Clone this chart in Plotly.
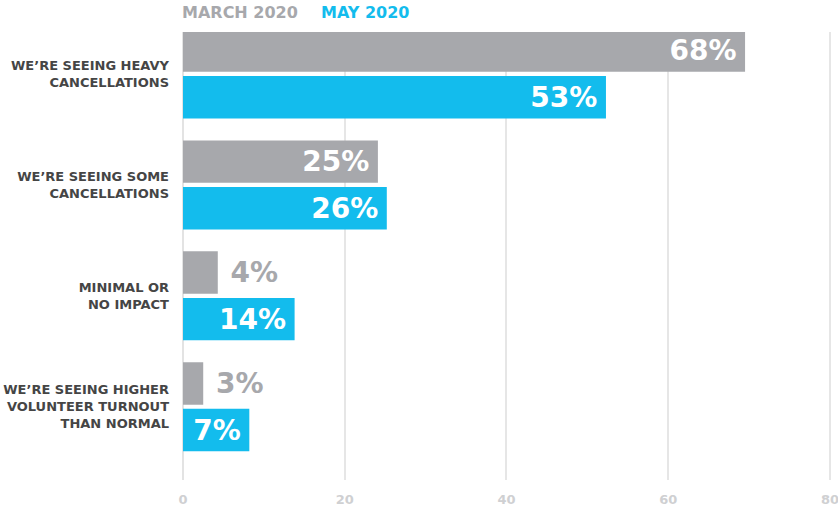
import plotly.graph_objects as go

categories = [
    "WE’RE SEEING HEAVY<br>CANCELLATIONS",
    "WE’RE SEEING SOME<br>CANCELLATIONS",
    "MINIMAL OR<br>NO IMPACT",
    "WE’RE SEEING HIGHER<br>VOLUNTEER TURNOUT<br>THAN NORMAL",
]
series_names = ["MARCH 2020", "MAY 2020"]
# bar lengths as drawn in the picture
march_values = [69.5, 24.1, 4.3, 2.5]
may_values = [52.3, 25.2, 13.8, 8.2]
# printed value labels
march_labels = ["68%", "25%", "4%", "3%"]
may_labels = ["53%", "26%", "14%", "7%"]
x_ticks = [0, 20, 40, 60, 80]

GREY = "#a7a8ac"
BLUE = "#13bced"
FONT = "DejaVu Sans"
NB = "\u00a0"
TS = "\u2009"

fig = go.Figure()
fig.add_trace(go.Bar(
    y=categories, x=march_values, orientation="h", name=series_names[0],
    marker=dict(color=GREY, line=dict(width=0)),
    text=march_labels,
    texttemplate=["%{text}" + TS, "%{text}" + TS, NB + "%{text}", NB + "%{text}"],
    textposition=["inside", "inside", "outside", "outside"],
    insidetextanchor="end",
    insidetextfont=dict(color="white", size=28, family=FONT, weight="bold"),
    outsidetextfont=dict(color=GREY, size=28, family=FONT, weight="bold"),
    cliponaxis=False,
))
fig.add_trace(go.Bar(
    y=categories, x=may_values, orientation="h", name=series_names[1],
    marker=dict(color=BLUE, line=dict(width=0)),
    text=may_labels,
    texttemplate="%{text}" + TS,
    textposition="inside",
    insidetextanchor="end",
    insidetextfont=dict(color="white", size=28, family=FONT, weight="bold"),
    cliponaxis=False,
))

fig.update_layout(
    width=838, height=508,
    margin=dict(l=183, r=6, t=32, b=28),
    paper_bgcolor="white", plot_bgcolor="white",
    barmode="group", bargap=0.16, bargroupgap=0.09,
    showlegend=False,
    uniformtext=dict(minsize=28, mode="show"),
    font=dict(family=FONT),
    xaxis=dict(
        range=[0, 80.25], tickvals=x_ticks, showgrid=True, gridcolor="#e6e6e6",
        gridwidth=1.5, zeroline=True, zerolinecolor="#e3e3e3", zerolinewidth=1.5,
        showline=False, ticks="", ticklabelstandoff=10, automargin=False,
        ticklabeloverflow="allow",
        tickfont=dict(color="#cfd0d2", size=13, family=FONT, weight="bold"),
    ),
    yaxis=dict(
        range=[3.66, -0.378], showgrid=False, zeroline=False, showline=False,
        ticks="", ticklabelstandoff=13, automargin=False,
        tickfont=dict(color="#454545", size=13, family=FONT, weight="bold"),
    ),
    annotations=[
        dict(text=series_names[0], x=0, xref="paper", xanchor="left", xshift=-3,
             y=1, yshift=20, yref="paper", yanchor="middle", showarrow=False,
             font=dict(color=GREY, size=16, family=FONT, weight="bold")),
        dict(text=series_names[1], x=0, xref="paper", xanchor="left", xshift=136,
             y=1, yshift=20, yref="paper", yanchor="middle", showarrow=False,
             font=dict(color=BLUE, size=16, family=FONT, weight="bold")),
    ],
)

fig.write_html("out.html", config={"displayModeBar": False},
               post_script="document.body.style.margin='0';")
